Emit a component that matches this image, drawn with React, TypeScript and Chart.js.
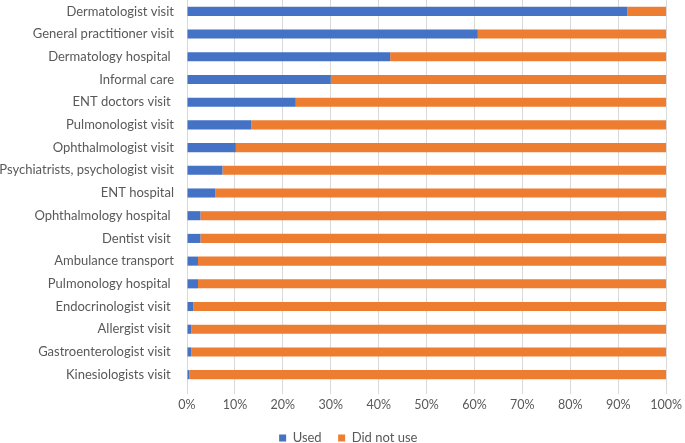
import React, { useEffect, useRef } from "react";
import { Chart, registerables } from "chart.js";

Chart.register(...registerables);

const categories = [
  "Dermatologist visit",
  "General practitioner visit",
  "Dermatology hospital ",
  "Informal care",
  "ENT doctors visit ",
  "Pulmonologist visit",
  "Ophthalmologist visit",
  "Psychiatrists, psychologist visit",
  "ENT hospital",
  "Ophthalmology hospital ",
  "Dentist visit ",
  "Ambulance transport",
  "Pulmonology hospital ",
  "Endocrinologist visit ",
  "Allergist visit ",
  "Gastroenterologist visit ",
  "Kinesiologists visit ",
];

const usedValues = [91.9, 60.7, 42.4, 30.0, 22.7, 13.4, 10.2, 7.4, 5.9, 2.8, 2.8, 2.3, 2.3, 1.35, 0.9, 0.9, 0.45];
const didNotUseValues = [8.1, 39.3, 57.6, 70.0, 77.3, 86.6, 89.8, 92.6, 94.1, 97.2, 97.2, 97.7, 97.7, 98.65, 99.1, 99.1, 99.55];

const seriesNames = ["Used", "Did not use"];
const xTicks = [0, 10, 20, 30, 40, 50, 60, 70, 80, 90, 100];

const legendShift = {
  id: "legendShift",
  afterLayout(chart: any) {
    if (chart.legend) {
      chart.legend.left += 14;
      chart.legend.right += 14;
    }
  },
};

export default function App() {
  const canvasRef = useRef<HTMLCanvasElement | null>(null);

  useEffect(() => {
    if (!canvasRef.current) return;
    const font = "Lato, 'Open Sans', sans-serif";
    const chart = new Chart(canvasRef.current, {
      type: "bar",
      data: {
        labels: categories,
        datasets: [
          {
            label: seriesNames[0],
            data: usedValues,
            backgroundColor: "#4472C4",
            barPercentage: 0.4,
            categoryPercentage: 1,
          },
          {
            label: seriesNames[1],
            data: didNotUseValues,
            backgroundColor: "#ED7D31",
            barPercentage: 0.4,
            categoryPercentage: 1,
          },
        ],
      },
      plugins: [legendShift],
      options: {
        indexAxis: "y",
        animation: false,
        responsive: false,
        maintainAspectRatio: false,
        layout: { padding: { top: 0, right: 16.5, bottom: -11.5, left: 0 } },
        plugins: {
          tooltip: { enabled: false },
          legend: {
            position: "bottom",
            labels: {
              boxWidth: 7,
              boxHeight: 7,
              padding: 16.5,
              color: "#595959",
              font: { family: font, size: 13 },
            },
          },
        },
        scales: {
          x: {
            stacked: true,
            min: 0,
            max: 100,
            afterBuildTicks: (scale: any) => {
              scale.ticks = xTicks.map((v) => ({ value: v }));
            },
            ticks: {
              callback: (v: any) => v + "%",
              color: "#595959",
              font: { family: font, size: 12.5 },
              padding: 3,
              maxRotation: 0,
            },
            grid: {
              color: "#D9D9D9",
              lineWidth: 1,
              tickLength: 8,
              tickColor: "#D9D9D9",
            },
            border: { display: false },
          },
          y: {
            stacked: true,
            afterFit: (scale: any) => {
              scale.width = 187;
              scale.paddingTop = 0;
              scale.paddingBottom = 0;
            },
            ticks: {
              color: "#595959",
              font: { family: font, size: 13 },
              padding: 5,
              autoSkip: false,
            },
            grid: { display: false },
            border: { display: true, color: "#D9D9D9" },
          },
        },
      },
    });
    return () => chart.destroy();
  }, []);

  return (
    <div style={{ position: "fixed", left: 0, top: 0, width: 685, height: 443, background: "#fff", overflow: "hidden" }}>
      <canvas ref={canvasRef} width={685} height={443} />
    </div>
  );
}
